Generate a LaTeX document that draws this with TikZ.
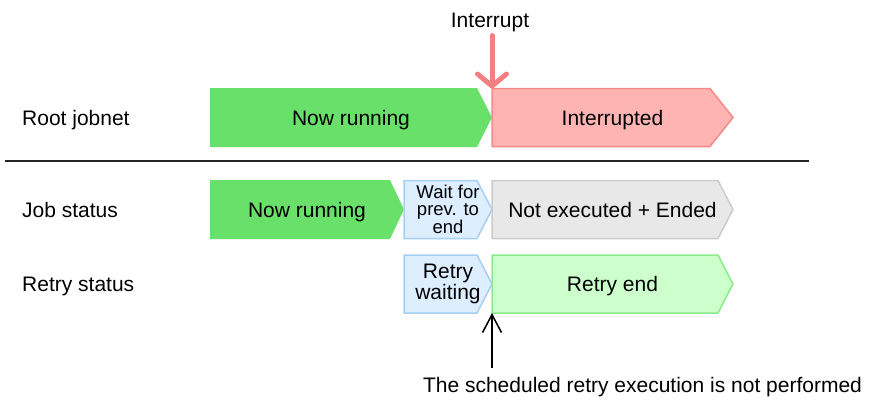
\documentclass[tikz,border=0pt]{standalone}
\usepackage{fontspec}
\setmainfont{Liberation Sans}
\usetikzlibrary{arrows.meta,backgrounds,calc}
\definecolor{rungreen}{RGB}{104,224,106}
\definecolor{intfill}{RGB}{255,180,180}
\definecolor{intline}{RGB}{244,138,138}
\definecolor{intarrow}{RGB}{242,128,128}
\definecolor{grayfill}{RGB}{232,232,232}
\definecolor{grayline}{RGB}{204,204,204}
\definecolor{bluefill}{RGB}{220,238,255}
\definecolor{blueline}{RGB}{166,207,245}
\definecolor{lgfill}{RGB}{204,255,204}
\definecolor{lgline}{RGB}{140,235,140}
\newcommand\chevshape[3]{%
  \begin{scope}[on background layer]
  \path[#3] (#1.north west) -- ($(#1.north east)+(-#2,0)$) -- (#1.east) -- ($(#1.south east)+(-#2,0)$) -- (#1.south west) -- cycle;
  \end{scope}}
\tikzset{
  bigtext/.style={font=\fontsize{21}{19}\selectfont},
  box/.style={bigtext, inner sep=0pt, outer sep=0pt, text height=15pt, text depth=0pt},
  smallbox/.style={inner sep=0pt, outer sep=0pt, align=center, font=\fontsize{18.5}{16.7}\selectfont},
  twobox/.style={inner sep=0pt, outer sep=0pt, align=center, font=\fontsize{21}{19}\selectfont},
  rowlabel/.style={bigtext, inner sep=0pt, anchor=base west},
  runst/.style={fill=rungreen},
  intst/.style={fill=intfill, draw=intline, line width=1.5pt, line join=miter},
  grayst/.style={fill=grayfill, draw=grayline, line width=1.5pt},
  bluest/.style={fill=bluefill, draw=blueline, line width=1.5pt},
  lgst/.style={fill=lgfill, draw=lgline, line width=1.5pt},
}
\begin{document}
\begin{tikzpicture}[x=1pt,y=-1pt]
\useasboundingbox (0,0) rectangle (870,399);
% row labels
\node[rowlabel] (lroot) at (22,125) {Root jobnet};
\node[rowlabel] (ljob) at (22,217) {Job status};
\node[rowlabel] (lretry) at (22,291.5) {Retry status};
% separator
\coordinate (sepL) at (5,161);
\coordinate (sepR) at (809,161);
\draw[line width=1.6pt, black!85] (sepL) -- (sepR);
% root jobnet row
\node[box, minimum width=282pt, minimum height=59pt] (root1) at (351,117.5) {Now running};
\chevshape{root1}{15}{runst}
\node[box, minimum width=241pt, minimum height=58pt] (root2) at (612.5,117.5) {Interrupted};
\chevshape{root2}{23}{intst}
% job status row
\node[box, minimum width=194pt, minimum height=59pt] (job1) at (307,209.5) {Now running};
\chevshape{job1}{14}{runst}
\node[smallbox, minimum width=88pt, minimum height=58pt] (job2) at (448,209.5) {Wait for\\prev. to\\end};
\chevshape{job2}{15}{bluest}
\node[box, minimum width=241pt, minimum height=58pt] (job3) at (612.5,209.5) {Not executed + Ended};
\chevshape{job3}{15}{grayst}
% retry status row
\node[twobox, minimum width=88pt, minimum height=58pt] (retry1) at (448,284) {Retry\\waiting};
\chevshape{retry1}{15}{bluest}
\node[box, minimum width=241pt, minimum height=58pt] (retry2) at (612.5,284) {Retry end};
\chevshape{retry2}{15}{lgst}
% interrupt
\node[bigtext, inner sep=0pt, anchor=base] (int) at (490,27) {Interrupt};
\draw[intarrow, line width=5pt, line cap=round, shorten <=4pt,
  -{Straight Barb[length=12pt, width=29pt, round]}] (int.south -| root2.north west) -- (root2.north west);
% note
\node[bigtext, inner sep=0pt, anchor=base] (note) at (642.5,392) {The scheduled retry execution is not performed};
\draw[black, line width=1.5pt, shorten <=9pt,
  -{Straight Barb[length=18pt, width=19pt]}] (note.north -| retry2.south west) -- (retry2.south west);
\end{tikzpicture}
\end{document}
